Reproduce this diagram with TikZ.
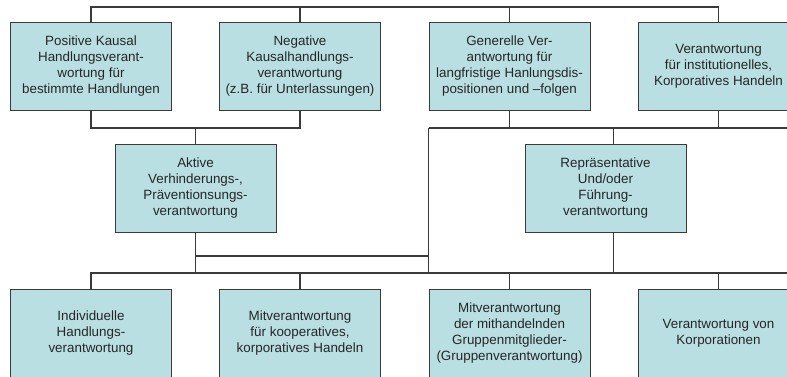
\documentclass[tikz,border=0pt]{standalone}
\usepackage{fontspec}
\setmainfont{Liberation Sans}
\definecolor{boxfill}{HTML}{B9DFE3}
\definecolor{linec}{HTML}{3A3A3A}
\begin{document}
\begin{tikzpicture}[x=1pt,y=-1pt,
  box/.style={draw=linec, line width=1pt, fill=boxfill, minimum width=161pt, minimum height=88pt,
    align=center, font=\fontsize{13.4}{16.2}\selectfont, inner sep=0pt, text=black!85},
  conn/.style={draw=linec, line width=1.1pt}]
\useasboundingbox (0,0) rectangle (787,376);
% top row
\node[box] (t1) at (91,66) {Positive Kausal\\Handlungsverant-\\wortung für\\bestimmte Handlungen};
\node[box] (t2) at (300,66) {Negative\\Kausalhandlungs-\\verantwortung\\(z.B. für Unterlassungen)};
\node[box] (t3) at (509.5,66) {Generelle Ver-\\antwortung für\\langfristige Hanlungsdis-\\positionen und –folgen};
\node[box] (t4) at (718.5,66) {Verantwortung\\für institutionelles,\\Korporatives Handeln};
% middle row
\node[box] (a) at (195.5,188) {Aktive\\Verhinderungs-,\\Präventionsungs-\\verantwortung};
\node[box] (r) at (605.5,188) {Repräsentative\\Und/oder\\Führung-\\verantwortung};
% bottom row
\node[box] (b1) at (91,333) {Individuelle\\Handlungs-\\verantwortung};
\node[box] (b2) at (300,333) {Mitverantwortung\\für kooperatives,\\korporatives Handeln};
\node[box] (b3) at (509.5,333) {Mitverantwortung\\der mithandelnden\\Gruppenmitglieder-\\(Gruppenverantwortung)};
\node[box] (b4) at (718.5,333) {Verantwortung von\\Korporationen};
% junction coordinates
\coordinate (tb) at (0,7);
\coordinate (mb) at (0,128);
\coordinate (hb) at (0,256);
\coordinate (lb) at (0,273);
\coordinate (redge) at (787,0);
\coordinate (rn) at ([xshift=8pt]r.north);
\coordinate (rs) at ([xshift=8pt]r.south);
\coordinate (vr) at (t3.south west |- mb);
% top bus
\draw[conn] (t1.north) |- (tb -| t4.north) -- (t4.north);
\draw[conn] (t2.north) -- (t2.north |- tb);
\draw[conn] (t3.north) -- (t3.north |- tb);
% left middle
\draw[conn] (t1.south) |- (mb -| t2.south) -- (t2.south);
\draw[conn] (mb -| a.north) -- (a.north);
% right middle
\draw[conn] (t3.south) -- (t3.south |- mb);
\draw[conn] (t4.south) -- (t4.south |- mb);
\draw[conn] (vr) -- (redge |- mb);
\draw[conn] (rn |- mb) -- (rn);
\draw[conn] (vr) -- (vr |- lb);
% lower connections
\draw[conn] (a.south) -- (a.south |- lb);
\draw[conn] (hb -| a.south) -- (hb -| vr);
\draw[conn] (rs) -- (rs |- lb);
% lower bus
\draw[conn] (b1.north) |- (redge |- lb);
\draw[conn] (b2.north) -- (b2.north |- lb);
\draw[conn] (b3.north) -- (b3.north |- lb);
\draw[conn] (b4.north) -- (b4.north |- lb);
\end{tikzpicture}
\end{document}
